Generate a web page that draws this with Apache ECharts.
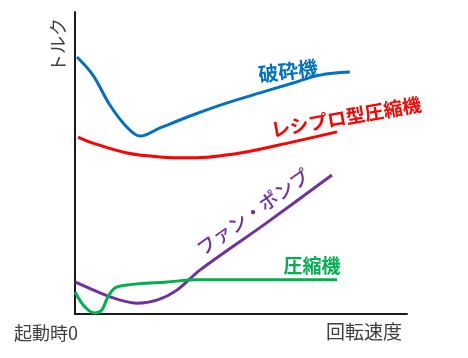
<!DOCTYPE html>
<html>
<head>
<meta charset="utf-8">
<script src="https://cdn.jsdelivr.net/npm/echarts@6/dist/echarts.min.js"></script>
<style>
html,body{margin:0;padding:0;background:#fff;}
#c{width:468px;height:358px;}
</style>
</head>
<body>
<div id="c"></div>
<script>
// Speed (0-100) vs torque (0-100)
const crusher = [[0.6,85.1],[5.4,79.1],[10.5,69.2],[15.6,61.9],[19.6,58.9],[25.6,61.6],[35.5,65.9],[45.8,69.9],[55.7,73.2],[65.7,76.5],[73.8,79.1],[82.8,80.1]];
const recipComp = [[0.9,58.6],[5.4,56.6],[15.7,53.3],[25.6,52.0],[35.5,51.7],[49.7,53.3],[65.7,57.0],[78.9,60.3]];
const fanPump = [[0,10.6],[7.5,7.0],[13.6,4.6],[18.7,3.6],[24.7,4.6],[30.7,7.9],[37.7,14.6],[57.5,30.0],[77.4,46.0]];
const compressor = [[0,7.3],[3.0,2.3],[6.0,0.3],[8.1,1.3],[9.6,5.0],[12.0,8.6],[15.7,9.6],[27.7,10.6],[36.7,11.3],[78.9,11.3]];
const seriesNames = ['破砕機','レシプロ型圧縮機','ファン・ポンプ','圧縮機'];
const axisTexts = {y:'トルク', origin:'起動時0', x:'回転速度'};

const FONT = '"Noto Sans CJK JP", "Noto Sans", sans-serif';
const chart = echarts.init(document.getElementById('c'), null, {renderer:'canvas'});
function line(name, data, color, smooth){
  return {name, type:'line', data, smooth: smooth, showSymbol:false, symbol:'none',
    lineStyle:{color, width:3}, itemStyle:{color}, animation:false};
}
chart.setOption({
  backgroundColor:'#fff',
  animation:false,
  grid:{left:75, top:12, width:332, height:302},
  xAxis:{type:'value', min:0, max:100, axisLine:{show:true, onZero:false, lineStyle:{color:'#1a1a1a', width:2}},
    axisTick:{show:false}, axisLabel:{show:false}, splitLine:{show:false}},
  yAxis:{type:'value', min:0, max:100, axisLine:{show:true, onZero:false, lineStyle:{color:'#1a1a1a', width:2}},
    axisTick:{show:false}, axisLabel:{show:false}, splitLine:{show:false}},
  series:[
    line(seriesNames[0], crusher, '#0070C0', 0.35),
    line(seriesNames[1], recipComp, '#FF0000', 0.35),
    line(seriesNames[2], fanPump, '#7030A0', 0.3),
    line(seriesNames[3], compressor, '#00B050', 0.35)
  ],
  graphic:[
    {type:'text', x:58, y:45, rotation:Math.PI/2, style:{text:axisTexts.y, font:'18px '+FONT, fill:'#404040', textAlign:'center', textVerticalAlign:'middle'}},
    {type:'text', x:46, y:333, style:{text:axisTexts.origin, font:'18px '+FONT, fill:'#404040', textAlign:'center', textVerticalAlign:'middle'}},
    {type:'text', x:364, y:332, style:{text:axisTexts.x, font:'19px '+FONT, fill:'#404040', textAlign:'center', textVerticalAlign:'middle'}},
    {type:'text', x:288, y:71, rotation:7*Math.PI/180, style:{text:seriesNames[0], font:'bold 20px '+FONT, fill:'#0070C0', textAlign:'center', textVerticalAlign:'middle'}},
    {type:'text', x:346, y:117, rotation:10*Math.PI/180, style:{text:seriesNames[1], font:'bold 19px '+FONT, fill:'#FF0000', textAlign:'center', textVerticalAlign:'middle'}},
    {type:'text', x:253, y:212, rotation:35.5*Math.PI/180, style:{text:seriesNames[2], font:'500 19px '+FONT, fill:'#7030A0', textAlign:'center', textVerticalAlign:'middle'}},
    {type:'text', x:312, y:266, style:{text:seriesNames[3], font:'bold 19px '+FONT, fill:'#00B050', textAlign:'center', textVerticalAlign:'middle'}}
  ]
});
</script>
</body>
</html>
